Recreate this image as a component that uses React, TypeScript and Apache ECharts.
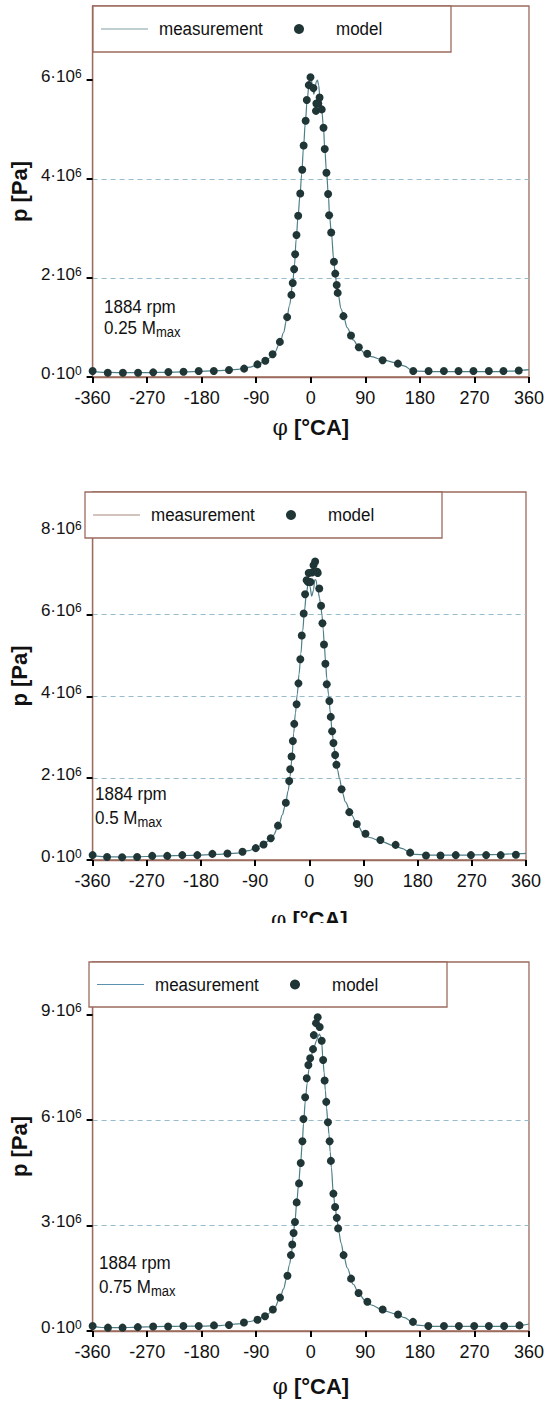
import React, { useEffect, useRef } from 'react';
import * as echarts from 'echarts';

// ---------- DATA (pressure in 10^6 Pa, angle in °CA) ----------
const xTicks = [-360, -270, -180, -90, 0, 90, 180, 270, 360];

const p1MeasX = [-360,-340,-320,-300,-270,-240,-210,-180,-150,-120,-100,-90,-80,-70,-60,-50,-45,-40,-35,-30,-27,-24,-21,-18,-15,-12,-9,-6,-3,-1,1,3,5,7,9,11,13,15,18,21,23,26,29,31,34,38,40,43,45,50,55,60,70,80,90,100,120,140,155,165,175,200,250,300,340,350,360];
const p1MeasY = [0.11,0.095,0.09,0.088,0.09,0.095,0.105,0.115,0.13,0.155,0.2,0.24,0.29,0.37,0.49,0.72,0.9,1.15,1.45,1.88,2.25,2.8,3.25,3.65,4.1,4.65,5.15,5.6,5.9,6.0,6.0,5.85,5.72,5.8,5.97,6.0,5.9,5.65,5.4,5.03,4.62,4.13,3.68,3.25,2.9,2.35,2.1,1.85,1.68,1.38,1.18,1.0,0.75,0.58,0.47,0.41,0.34,0.29,0.22,0.15,0.12,0.11,0.11,0.11,0.12,0.14,0.15];
const p1ModX = [-360,-335,-310,-285,-260,-235,-210,-185,-160,-135,-110,-88,-75,-63,-51,-39,-32,-29.8,-27.5,-25.8,-23.6,-20.8,-17.4,-14.1,-11.8,-8.5,-6.6,-3.3,-0.5,4.4,8.5,9.2,12.4,14.5,18,21,23,25.8,28.6,30.3,33.7,38.2,40.4,42.7,44.4,53.9,66.3,79.2,93.2,118.5,143.8,169,194.3,219.6,243.7,268.4,293.7,317.9,343.1];
const p1ModY = [0.12,0.087,0.087,0.087,0.094,0.10,0.107,0.12,0.12,0.14,0.17,0.255,0.33,0.46,0.71,1.21,1.66,1.9,2.18,2.48,2.87,3.26,3.71,4.19,4.68,5.18,5.6,5.9,6.06,5.84,5.38,5.53,5.53,5.65,5.41,5.04,4.61,4.13,3.70,3.27,2.92,2.33,2.09,1.86,1.70,1.23,0.84,0.60,0.47,0.34,0.27,0.12,0.12,0.12,0.12,0.12,0.12,0.12,0.13];

const p2MeasX = [-360,-340,-320,-300,-270,-240,-210,-180,-150,-120,-100,-90,-80,-70,-60,-50,-45,-40,-35,-32,-29,-26,-23,-20,-17,-14,-11,-8,-5,-2,1,4,7,9,11,13,15,17,19,21,23,25,27,29,32,35,38,41,44,47,50,55,60,70,80,90,100,120,140,155,165,175,200,250,300,340,360];
const p2MeasY = [0.1,0.08,0.075,0.075,0.085,0.1,0.11,0.12,0.14,0.17,0.23,0.28,0.36,0.45,0.6,0.88,1.1,1.33,1.7,2.05,2.45,3.1,3.6,4.05,4.55,5.05,5.6,6.1,6.5,6.75,6.7,6.45,6.6,6.85,6.85,6.7,6.55,6.4,6.22,6.0,5.65,5.25,4.85,4.45,4.05,3.6,3.12,2.75,2.45,2.2,2.0,1.65,1.42,1.1,0.86,0.64,0.55,0.45,0.35,0.28,0.2,0.14,0.12,0.12,0.13,0.15,0.16];
const p2ModX = [-360,-336,-311,-286,-261,-236,-211,-186,-161,-136,-111,-89,-76,-64,-52,-39,-33.4,-31.7,-29.5,-27.3,-25,-21.1,-18,-14.9,-12.5,-9.3,-7,-4.5,-2,-1,2,4.3,7,9.7,13,14,16.5,19.5,21.8,24.4,26.7,29,33.4,35.6,37.9,40.1,42.9,45.1,53.6,66.5,78.8,93.4,118.1,143.4,167.5,193.9,218,243.3,268.5,293.8,318,343.2];
const p2ModY = [0.12,0.074,0.066,0.074,0.10,0.10,0.12,0.12,0.15,0.16,0.20,0.29,0.38,0.53,0.84,1.40,1.93,2.22,2.53,2.91,3.33,3.81,4.32,4.91,5.49,6.03,6.5,6.84,6.80,7.02,6.80,7.03,7.21,7.30,7.05,7.02,6.64,6.22,5.79,5.27,4.80,4.30,3.89,3.50,3.15,2.86,2.57,2.33,1.73,1.17,0.88,0.64,0.49,0.37,0.18,0.11,0.11,0.12,0.12,0.12,0.12,0.13];

const p3MeasX = [-360,-345,-330,-300,-270,-240,-210,-180,-150,-120,-100,-90,-80,-70,-60,-50,-45,-40,-35,-32,-29,-26,-23,-20,-17,-14,-12,-9,-6,-3,0,3,6,9,12,14,16,18,20,22,24,26,28,30,32,34,37,40,43,46,50,55,60,70,80,90,100,120,140,155,165,175,200,250,300,340,350,360];
const p3MeasY = [0.14,0.1,0.095,0.1,0.12,0.13,0.135,0.14,0.155,0.2,0.27,0.31,0.38,0.49,0.66,0.98,1.2,1.5,1.9,2.2,2.7,3.15,3.7,4.2,4.75,5.35,5.9,6.55,7.05,7.45,7.75,7.95,8.1,8.25,8.38,8.45,8.4,8.2,7.75,7.35,6.85,6.35,5.98,5.6,5.1,4.65,3.95,3.55,3.2,2.85,2.5,2.1,1.8,1.33,1.04,0.86,0.74,0.58,0.49,0.38,0.28,0.17,0.13,0.13,0.13,0.13,0.17,0.2];
const p3ModX = [-360,-334.7,-310.6,-285.4,-260.1,-235.4,-210.2,-184.9,-159.7,-135,-110.3,-87.9,-75.5,-62.6,-50.8,-38.5,-32.8,-30.6,-28.4,-26.1,-23.3,-19.4,-16.6,-13.8,-12.1,-9.3,-6.7,-4,-1,3.7,5,8.6,11.4,14.7,18,20.4,22.8,25.5,28.3,31.1,33.1,37.3,40.1,42.9,45.1,54.1,66.4,78.8,93.4,118.6,143.9,168.6,193.9,219.7,244.3,269.6,293.8,319,344.3];
const p3ModY = [0.14,0.095,0.095,0.11,0.13,0.13,0.14,0.14,0.16,0.17,0.24,0.32,0.42,0.61,0.95,1.57,2.16,2.46,2.79,3.10,3.66,4.20,4.78,5.40,6.03,6.65,7.19,7.57,7.76,8.02,8.42,8.76,8.93,8.65,8.26,7.71,7.13,6.52,5.94,5.40,4.84,3.91,3.53,3.22,2.92,2.16,1.49,1.08,0.83,0.61,0.47,0.26,0.14,0.14,0.14,0.14,0.14,0.14,0.16];

const p1YTicks = [0, 2, 4, 6];
const p2YTicks = [0, 2, 4, 6, 8];
const p3YTicks = [0, 3, 6, 9];
const yMaxes = [7.5, 9, 10.5];
const yIntervals = [2, 2, 3];
const speedLabel = '1884 rpm';
const loadLabels = ['0.25', '0.5', '0.75'];
const seriesNames = ['measurement', 'model'];

// ---------- STYLE ----------
const FONT = 'Liberation Sans, Arial, Helvetica, sans-serif';
const SERIF = 'DejaVu Serif, Liberation Serif, serif';
const FRAME = '#9c6b5d';
const LINE = '#4e7f89';
const DOT = '#1f3536';
const GRID = '#97bccd';
const TXT = '#111111';

const layouts = [
  { grid: { left: 87, top: 6, width: 446, height: 371 }, nameGapX: 39, nameGapY: 51,
    legend: { x: 93, y: 6, w: 358, h: 46, color: '#7e9ea3' }, ann: { x: 104, y1: 307, y2: 328 } },
  { grid: { left: 79, top: 492, width: 447, height: 368 }, nameGapX: 48, nameGapY: 47,
    legend: { x: 85, y: 492, w: 357, h: 46, color: '#a5877c' }, ann: { x: 95, y1: 794, y2: 818 } },
  { grid: { left: 82, top: 962, width: 448, height: 369 }, nameGapX: 44, nameGapY: 46,
    legend: { x: 89, y: 962, w: 358, h: 45, color: '#5b92ad' }, ann: { x: 99, y1: 1263, y2: 1287 } },
];

const panelData = [
  { mx: p1MeasX, my: p1MeasY, dx: p1ModX, dy: p1ModY, ticks: p1YTicks },
  { mx: p2MeasX, my: p2MeasY, dx: p2ModX, dy: p2ModY, ticks: p2YTicks },
  { mx: p3MeasX, my: p3MeasY, dx: p3ModX, dy: p3ModY, ticks: p3YTicks },
];

function buildOption() {
  const grids: any[] = [];
  const xAxes: any[] = [];
  const yAxes: any[] = [];
  const series: any[] = [];
  const graphics: any[] = [];

  panelData.forEach((pd, i) => {
    const L = layouts[i];
    grids.push({ ...L.grid, show: true, borderColor: FRAME, borderWidth: 1.3, backgroundColor: 'transparent' });
    xAxes.push({
      type: 'value', gridIndex: i, min: xTicks[0], max: xTicks[xTicks.length - 1], interval: 90,
      axisLine: { show: true, onZero: false, lineStyle: { color: FRAME, width: 1.3 } },
      axisTick: { show: true, inside: false, length: 6, lineStyle: { color: '#000', width: 2 } },
      axisLabel: { fontSize: 18, color: TXT, fontFamily: FONT, margin: 12, formatter: (v: number) => String(v) },
      splitLine: { show: false },
      name: '{p|φ} [°CA]', nameLocation: 'middle', nameGap: L.nameGapX,
      nameTextStyle: {
        fontSize: 22, fontWeight: 'bold', fontFamily: FONT, color: TXT,
        rich: { p: { fontSize: 22, fontFamily: SERIF, fontWeight: 'normal', color: TXT } },
      },
    });
    const tv = pd.ticks.map((t) => t * 1e6);
    yAxes.push({
      type: 'value', gridIndex: i, min: 0, max: yMaxes[i] * 1e6, interval: yIntervals[i] * 1e6,
      axisLine: { show: true, onZero: false, lineStyle: { color: FRAME, width: 1.3 } },
      axisTick: { show: true, inside: false, length: 6, lineStyle: { color: '#000', width: 2 }, customValues: tv },
      axisLabel: {
        customValues: tv, margin: 11, padding: [0, 0, 8, 0],
        formatter: (v: number) => {
          const m = Math.round(v / 1e6);
          return `{b|${m}·10}{s|${m === 0 ? 0 : 6}}`;
        },
        rich: {
          b: { fontSize: 17, fontFamily: FONT, color: TXT, lineHeight: 17, verticalAlign: 'bottom' },
          s: { fontSize: 12, fontFamily: FONT, color: TXT, lineHeight: 12, verticalAlign: 'top', padding: [0, 0, 13, 0] },
        },
      },
      splitLine: { show: true, showMinLine: false, showMaxLine: false, lineStyle: { type: [5, 4], color: GRID, width: 1 } },
      name: 'p [Pa]', nameLocation: 'middle', nameGap: L.nameGapY,
      nameTextStyle: { fontSize: 22, fontWeight: 'bold', fontFamily: FONT, color: TXT },
    });
    series.push({
      type: 'line', name: seriesNames[0], xAxisIndex: i, yAxisIndex: i,
      data: pd.mx.map((x, k) => [x, pd.my[k] * 1e6]),
      smooth: 0.35, smoothMonotone: 'x', showSymbol: false, symbol: 'none',
      lineStyle: { color: LINE, width: 1.2 }, z: 2,
    });
    series.push({
      type: 'scatter', name: seriesNames[1], xAxisIndex: i, yAxisIndex: i,
      data: pd.dx.map((x, k) => [x, pd.dy[k] * 1e6]),
      symbolSize: 8, itemStyle: { color: DOT, opacity: 1 }, z: 3,
    });

    // legend box
    const lg = L.legend;
    graphics.push({ type: 'rect', z: 20, shape: { x: lg.x, y: lg.y, width: lg.w, height: lg.h },
      style: { fill: '#fff', stroke: FRAME, lineWidth: 1.3 } });
    graphics.push({ type: 'line', z: 21, shape: { x1: lg.x + 8, y1: lg.y + lg.h / 2, x2: lg.x + 55, y2: lg.y + lg.h / 2 },
      style: { stroke: lg.color, lineWidth: 1.2 } });
    graphics.push({ type: 'text', z: 21, x: lg.x + 66, y: lg.y + lg.h / 2, scaleY: 1.12,
      style: { text: seriesNames[0], fontSize: 17, fontFamily: FONT, fill: TXT, verticalAlign: 'middle' } });
    graphics.push({ type: 'circle', z: 21, shape: { cx: lg.x + 206, cy: lg.y + lg.h / 2, r: 5 }, style: { fill: DOT } });
    graphics.push({ type: 'text', z: 21, x: lg.x + 243, y: lg.y + lg.h / 2, scaleY: 1.12,
      style: { text: seriesNames[1], fontSize: 17, fontFamily: FONT, fill: TXT, verticalAlign: 'middle' } });

    // annotation
    const an = L.ann;
    graphics.push({ type: 'text', z: 21, x: an.x, y: an.y1, scaleY: 1.12,
      style: { text: speedLabel, fontSize: 17, fontFamily: FONT, fill: TXT, verticalAlign: 'middle' } });
    graphics.push({ type: 'text', z: 21, x: an.x, y: an.y2, scaleY: 1.12,
      style: {
        text: `{n|${loadLabels[i]} M}{s|max}`, verticalAlign: 'middle',
        rich: {
          n: { fontSize: 17, fontFamily: FONT, fill: TXT, lineHeight: 20, verticalAlign: 'middle' },
          s: { fontSize: 13, fontFamily: FONT, fill: TXT, lineHeight: 13, verticalAlign: 'bottom' },
        },
      } });
  });

  // lower part of the middle panel's axis title is cut off in the source figure
  graphics.push({ type: 'rect', z: 50, shape: { x: 240, y: 923, width: 140, height: 18 }, style: { fill: '#fff' } });

  return {
    animation: false,
    backgroundColor: '#fff',
    textStyle: { fontFamily: FONT },
    grid: grids,
    xAxis: xAxes,
    yAxis: yAxes,
    series,
    graphic: graphics,
  };
}

export default function App() {
  const ref = useRef<HTMLDivElement>(null);
  useEffect(() => {
    if (!ref.current) return;
    const chart = echarts.init(ref.current, null, { renderer: 'svg' });
    chart.setOption(buildOption() as any);
    return () => chart.dispose();
  }, []);
  return <div ref={ref} style={{ position: 'absolute', left: 0, top: 0, width: 547, height: 1406 }} />;
}
